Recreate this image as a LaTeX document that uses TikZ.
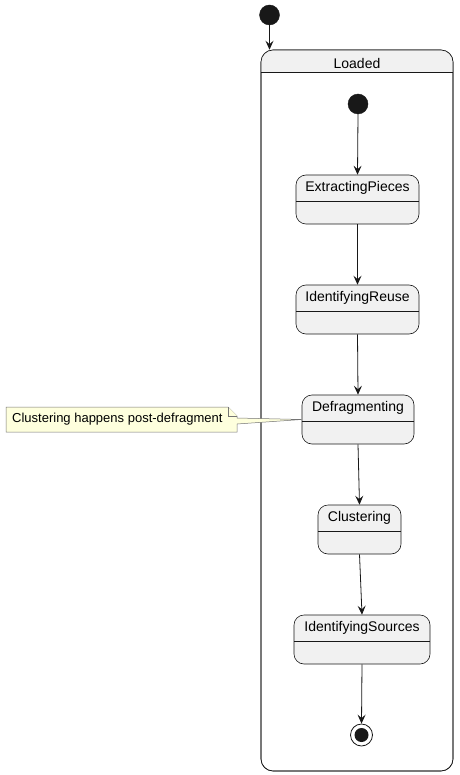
\documentclass[tikz,border=0pt]{standalone}
\usepackage{fontspec}
\setmainfont{Liberation Sans}
\usetikzlibrary{arrows.meta}
\definecolor{stfill}{HTML}{F1F1F1}
\definecolor{stline}{HTML}{181818}
\definecolor{notefill}{HTML}{FEFFDD}
\tikzset{
  st/.style={draw=stline, fill=stfill, line width=0.6pt, rounded corners=10pt, inner sep=0pt},
  sttext/.style={font=\fontsize{14}{16}\selectfont, inner sep=0pt},
  divider/.style={draw=stline, line width=0.5pt},
  arr/.style={draw=stline, line width=0.8pt, -{Stealth[length=9pt,width=8pt,inset=3.5pt]}},
  initdot/.style={circle, fill=stline, draw=stline, minimum size=20pt, inner sep=0pt},
}
\begin{document}
\begin{tikzpicture}[x=1pt,y=1pt]
\useasboundingbox (0,0) rectangle (459,-775);
% Loaded composite state
\node[draw=stline, fill=white, line width=0.6pt, rounded corners=12pt, minimum width=192pt, minimum height=721pt, inner sep=0pt] (ld) at (357,-410.5) {};
\begin{scope}
  \clip[rounded corners=12pt] (261,-50) rectangle (453,-771);
  \fill[stfill] (261,-50) rectangle (453,-72);
\end{scope}
\draw[draw=stline, line width=0.6pt, rounded corners=12pt] (261,-50) rectangle (453,-771);
\draw[divider] (261,-72) -- (453,-72);
\node[sttext] (ldt) at (357,-63) {Loaded};
% outer initial
\node[initdot] (init1) at (269.5,-15) {};
\draw[arr] (init1.south) -- (init1.south |- ld.north);
% inner initial
\node[initdot] (init2) at (358,-104) {};
% states
\node[st, minimum width=123pt, minimum height=49pt] (ep) at (357.5,-199.5) {};
\node[sttext] (ept) at (357.5,-188) {ExtractingPieces};
\draw[divider] (296,-201) -- (419,-201);
\node[st, minimum width=123pt, minimum height=49pt] (ir) at (357.5,-309.5) {};
\node[sttext] (irt) at (357.5,-298) {IdentifyingReuse};
\draw[divider] (296,-311) -- (419,-311);
\node[st, minimum width=112pt, minimum height=49pt] (df) at (358,-419.5) {};
\node[sttext] (dft) at (358,-408) {Defragmenting};
\draw[divider] (302,-421) -- (414,-421);
\node[st, minimum width=83pt, minimum height=49pt] (cl) at (359.5,-529.5) {};
\node[sttext] (clt) at (359.5,-518) {Clustering};
\draw[divider] (318,-531) -- (401,-531);
\node[st, minimum width=136pt, minimum height=49pt] (is) at (362,-639.5) {};
\node[sttext] (ist) at (362,-628) {IdentifyingSources};
\draw[divider] (294,-641) -- (430,-641);
% final state
\node[circle, draw=stline, fill=white, line width=0.8pt, minimum size=22pt, inner sep=0pt] (fin) at (361.5,-735) {};
\node[circle, fill=stline, minimum size=14pt, inner sep=0pt] (fini) at (fin.center) {};
% transitions
\draw[arr] (init2.south) -- (ep.north);
\draw[arr] (ep.south) -- (ir.north);
\draw[arr] (ir.south) -- (df.north);
\draw[arr] (df.south) -- (cl.north);
\draw[arr] (cl.south) -- (is.north);
\draw[arr] (is.south) -- (fin.north);
% note
\coordinate (tip) at (df.west);
\draw[draw=stline!60, fill=notefill, line width=0.5pt]
  (6,-407) -- (228,-407) -- (237,-416) -- (237,-418) -- (tip) -- (237,-424) -- (237,-432) -- (6,-432) -- cycle;
\draw[draw=stline!60, fill=notefill, line width=0.5pt] (228,-407) -- (228,-416) -- (237,-416);
\node[font=\fontsize{13}{15}\selectfont, anchor=west, inner sep=0pt] (note) at (12,-419.5) {Clustering happens post-defragment};
\end{tikzpicture}
\end{document}
